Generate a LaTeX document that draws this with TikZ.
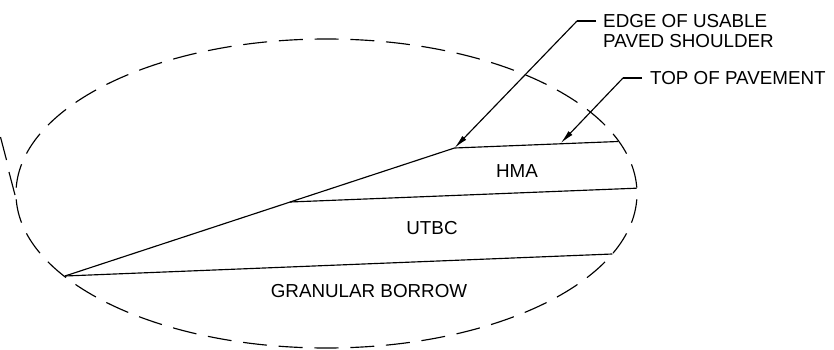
\documentclass[tikz,border=0pt]{standalone}
\usepackage{fontspec}
\setmainfont{Liberation Sans}
\usetikzlibrary{arrows.meta}
\tikzset{
  ln/.style={line width=1.15pt,black},
  brk/.style={ln,dash pattern=on 24pt off 11.77pt,dash phase=12pt},
  lbl/.style={font=\fontsize{18.8}{20}\selectfont,inner sep=0pt,align=left},
  lead/.style={ln,-{Latex[length=14pt,width=5.5pt]}}
}
\begin{document}
\begin{tikzpicture}[x=1pt,y=-1pt]
\useasboundingbox (0,0) rectangle (834,350);
\draw[brk] (326.5,193.5) ++(90:310.5 and 154.5) arc[start angle=90,end angle=-270,x radius=310.5,y radius=154.5];
\coordinate (a) at (65,276);
\coordinate (b) at (454.5,148);
\coordinate (c) at (618,141.5);
\coordinate (d) at (290,202);
\coordinate (e) at (636.5,188.2);
\coordinate (f) at (612.3,254);
\coordinate (t) at (560.7,143.2);
\coordinate (k1) at (577,21);
\coordinate (k2) at (623,78);
\draw[ln] (a) -- (b) -- (c);
\draw[ln] (d) -- (e);
\draw[ln] (a) -- (f);
\coordinate (u1) at (0.5,137);
\coordinate (u2) at (6.5,160);
\coordinate (u3) at (9,172);
\coordinate (u4) at (15,195);
\draw[ln] (u1) -- (u2);
\draw[ln] (u3) -- (u4);
\node[lbl,anchor=west] (edge) at (603,31) {EDGE OF USABLE\\PAVED SHOULDER};
\node[lbl,anchor=west] (top) at (650,78) {TOP OF PAVEMENT};
\node[lbl] (hma) at (517,171) {HMA};
\node[lbl] (utbc) at (432,228) {UTBC};
\node[lbl] (gb) at (369,291) {GRANULAR BORROW};
\draw[ln] (596,21) -- (k1);
\draw[lead] (k1) -- (b);
\draw[ln] (642,78) -- (k2);
\draw[lead] (k2) -- (t);
\end{tikzpicture}
\end{document}
